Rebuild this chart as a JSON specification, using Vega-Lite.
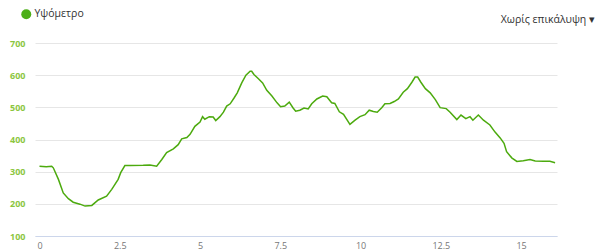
{
  "$schema": "https://vega.github.io/schema/vega-lite/v6.json",
  "width": 522,
  "height": 193,
  "autosize": "none",
  "padding": {"left": 35, "top": 43, "right": 43, "bottom": 16},
  "background": "white",
  "title": {
    "text": "Χωρίς επικάλυψη ▾",
    "anchor": "end",
    "frame": "group",
    "font": "Open Sans",
    "fontSize": 10.5,
    "fontWeight": "normal",
    "color": "#333333",
    "dx": 38,
    "dy": 34,
    "offset": 18
  },
  "data": {
    "values": [
      {"km": 0, "alt": 317, "s": "Υψόμετρο"},
      {"km": 0.21, "alt": 315, "s": "Υψόμετρο"},
      {"km": 0.38, "alt": 317, "s": "Υψόμετρο"},
      {"km": 0.43, "alt": 312, "s": "Υψόμετρο"},
      {"km": 0.59, "alt": 276, "s": "Υψόμετρο"},
      {"km": 0.74, "alt": 234, "s": "Υψόμετρο"},
      {"km": 0.9, "alt": 216, "s": "Υψόμετρο"},
      {"km": 1.05, "alt": 205, "s": "Υψόμετρο"},
      {"km": 1.26, "alt": 199, "s": "Υψόμετρο"},
      {"km": 1.42, "alt": 193, "s": "Υψόμετρο"},
      {"km": 1.63, "alt": 195, "s": "Υψόμετρο"},
      {"km": 1.83, "alt": 212, "s": "Υψόμετρο"},
      {"km": 2.09, "alt": 224, "s": "Υψόμετρο"},
      {"km": 2.25, "alt": 245, "s": "Υψόμετρο"},
      {"km": 2.45, "alt": 276, "s": "Υψόμετρο"},
      {"km": 2.53, "alt": 297, "s": "Υψόμετρο"},
      {"km": 2.66, "alt": 319, "s": "Υψόμετρο"},
      {"km": 2.82, "alt": 319, "s": "Υψόμετρο"},
      {"km": 3.23, "alt": 320, "s": "Υψόμετρο"},
      {"km": 3.44, "alt": 321, "s": "Υψόμετρο"},
      {"km": 3.65, "alt": 317, "s": "Υψόμετρο"},
      {"km": 3.81, "alt": 338, "s": "Υψόμετρο"},
      {"km": 3.96, "alt": 359, "s": "Υψόμετρο"},
      {"km": 4.17, "alt": 371, "s": "Υψόμετρο"},
      {"km": 4.32, "alt": 384, "s": "Υψόμετρο"},
      {"km": 4.43, "alt": 402, "s": "Υψόμετρο"},
      {"km": 4.59, "alt": 406, "s": "Υψόμετρο"},
      {"km": 4.69, "alt": 416, "s": "Υψόμετρο"},
      {"km": 4.84, "alt": 441, "s": "Υψόμετρο"},
      {"km": 5.0, "alt": 454, "s": "Υψόμετρο"},
      {"km": 5.08, "alt": 471, "s": "Υψόμετρο"},
      {"km": 5.15, "alt": 463, "s": "Υψόμετρο"},
      {"km": 5.29, "alt": 471, "s": "Υψόμετρο"},
      {"km": 5.41, "alt": 470, "s": "Υψόμετρο"},
      {"km": 5.49, "alt": 459, "s": "Υψόμετρο"},
      {"km": 5.62, "alt": 471, "s": "Υψόμετρο"},
      {"km": 5.73, "alt": 485, "s": "Υψόμετρο"},
      {"km": 5.83, "alt": 504, "s": "Υψόμετρο"},
      {"km": 5.94, "alt": 511, "s": "Υψόμετρο"},
      {"km": 6.06, "alt": 529, "s": "Υψόμετρο"},
      {"km": 6.16, "alt": 545, "s": "Υψόμετρο"},
      {"km": 6.3, "alt": 576, "s": "Υψόμετρο"},
      {"km": 6.43, "alt": 600, "s": "Υψόμετρο"},
      {"km": 6.56, "alt": 612, "s": "Υψόμετρο"},
      {"km": 6.61, "alt": 612, "s": "Υψόμετρο"},
      {"km": 6.68, "alt": 602, "s": "Υψόμετρο"},
      {"km": 6.82, "alt": 589, "s": "Υψόμετρο"},
      {"km": 6.95, "alt": 576, "s": "Υψόμετρο"},
      {"km": 7.08, "alt": 553, "s": "Υψόμετρο"},
      {"km": 7.24, "alt": 535, "s": "Υψόμετρο"},
      {"km": 7.4, "alt": 514, "s": "Υψόμετρο"},
      {"km": 7.51, "alt": 502, "s": "Υψόμετρο"},
      {"km": 7.64, "alt": 504, "s": "Υψόμετρο"},
      {"km": 7.78, "alt": 516, "s": "Υψόμετρο"},
      {"km": 7.9, "alt": 498, "s": "Υψόμετρο"},
      {"km": 7.98, "alt": 488, "s": "Υψόμετρο"},
      {"km": 8.11, "alt": 491, "s": "Υψόμετρο"},
      {"km": 8.24, "alt": 498, "s": "Υψόμετρο"},
      {"km": 8.37, "alt": 495, "s": "Υψόμετρο"},
      {"km": 8.48, "alt": 511, "s": "Υψόμετρο"},
      {"km": 8.64, "alt": 526, "s": "Υψόμετρο"},
      {"km": 8.82, "alt": 535, "s": "Υψόμετρο"},
      {"km": 8.95, "alt": 533, "s": "Υψόμετρο"},
      {"km": 9.1, "alt": 514, "s": "Υψόμετρο"},
      {"km": 9.2, "alt": 512, "s": "Υψόμετρο"},
      {"km": 9.34, "alt": 486, "s": "Υψόμετρο"},
      {"km": 9.47, "alt": 478, "s": "Υψόμετρο"},
      {"km": 9.67, "alt": 447, "s": "Υψόμετρο"},
      {"km": 9.83, "alt": 460, "s": "Υψόμετρο"},
      {"km": 9.98, "alt": 471, "s": "Υψόμετρο"},
      {"km": 10.14, "alt": 477, "s": "Υψόμετρο"},
      {"km": 10.27, "alt": 491, "s": "Υψόμετρο"},
      {"km": 10.4, "alt": 487, "s": "Υψόμετρο"},
      {"km": 10.52, "alt": 485, "s": "Υψόμετρο"},
      {"km": 10.66, "alt": 499, "s": "Υψόμετρο"},
      {"km": 10.76, "alt": 511, "s": "Υψόμετρο"},
      {"km": 10.92, "alt": 512, "s": "Υψόμετρο"},
      {"km": 11.05, "alt": 518, "s": "Υψόμετρο"},
      {"km": 11.18, "alt": 526, "s": "Υψόμετρο"},
      {"km": 11.33, "alt": 547, "s": "Υψόμετρο"},
      {"km": 11.46, "alt": 558, "s": "Υψόμετρο"},
      {"km": 11.6, "alt": 578, "s": "Υψόμετρο"},
      {"km": 11.7, "alt": 594, "s": "Υψόμετρο"},
      {"km": 11.78, "alt": 594, "s": "Υψόμετρο"},
      {"km": 11.88, "alt": 578, "s": "Υψόμετρο"},
      {"km": 12.02, "alt": 558, "s": "Υψόμετρο"},
      {"km": 12.17, "alt": 545, "s": "Υψόμετρο"},
      {"km": 12.33, "alt": 524, "s": "Υψόμετρο"},
      {"km": 12.48, "alt": 499, "s": "Υψόμετρο"},
      {"km": 12.67, "alt": 496, "s": "Υψόμετρο"},
      {"km": 12.79, "alt": 485, "s": "Υψόμετρο"},
      {"km": 13.0, "alt": 462, "s": "Υψόμετρο"},
      {"km": 13.13, "alt": 476, "s": "Υψόμετρο"},
      {"km": 13.28, "alt": 465, "s": "Υψόμετρο"},
      {"km": 13.41, "alt": 471, "s": "Υψόμετρο"},
      {"km": 13.5, "alt": 460, "s": "Υψόμετρο"},
      {"km": 13.67, "alt": 476, "s": "Υψόμετρο"},
      {"km": 13.83, "alt": 460, "s": "Υψόμετρο"},
      {"km": 14.03, "alt": 445, "s": "Υψόμετρο"},
      {"km": 14.19, "alt": 423, "s": "Υψόμετρο"},
      {"km": 14.35, "alt": 405, "s": "Υψόμετρο"},
      {"km": 14.47, "alt": 388, "s": "Υψόμετρο"},
      {"km": 14.55, "alt": 362, "s": "Υψόμετρο"},
      {"km": 14.71, "alt": 343, "s": "Υψόμετρο"},
      {"km": 14.87, "alt": 332, "s": "Υψόμετρο"},
      {"km": 15.07, "alt": 334, "s": "Υψόμετρο"},
      {"km": 15.28, "alt": 338, "s": "Υψόμετρο"},
      {"km": 15.44, "alt": 333, "s": "Υψόμετρο"},
      {"km": 15.7, "alt": 332, "s": "Υψόμετρο"},
      {"km": 15.9, "alt": 332, "s": "Υψόμετρο"},
      {"km": 16.06, "alt": 328, "s": "Υψόμετρο"}
    ]
  },
  "mark": {"type": "line", "strokeWidth": 1.5, "interpolate": "linear"},
  "encoding": {
    "x": {
      "field": "km",
      "type": "quantitative",
      "scale": {"domain": [-0.14, 16.12], "nice": false, "zero": false},
      "axis": {
        "title": null,
        "values": [0, 2.5, 5, 7.5, 10, 12.5, 15],
        "format": ".1~f",
        "grid": false,
        "ticks": false,
        "domainColor": "#ccd6eb",
        "domainWidth": 1,
        "labelColor": "#777777",
        "labelFont": "Open Sans",
        "labelFontSize": 9,
        "labelPadding": 5
      }
    },
    "y": {
      "field": "alt",
      "type": "quantitative",
      "scale": {"domain": [100, 700], "nice": false, "zero": false},
      "axis": {
        "title": null,
        "values": [100, 200, 300, 400, 500, 600, 700],
        "domain": false,
        "ticks": false,
        "gridColor": "#e6e6e6",
        "gridWidth": 1,
        "labelColor": "#8cc63f",
        "labelFont": "Open Sans",
        "labelFontSize": 9,
        "labelFontWeight": "bold",
        "labelPadding": 10
      }
    },
    "color": {
      "field": "s",
      "type": "nominal",
      "scale": {"range": ["#4caa0e"]},
      "legend": {
        "title": null,
        "orient": "none",
        "legendX": -14,
        "legendY": -34,
        "symbolType": "circle",
        "symbolFillColor": "#4caf18",
        "symbolStrokeWidth": 0,
        "symbolSize": 100,
        "labelFont": "Open Sans",
        "labelFontSize": 10.5,
        "labelColor": "#333333",
        "labelOffset": 3
      }
    }
  },
  "config": {"view": {"stroke": null}}
}
